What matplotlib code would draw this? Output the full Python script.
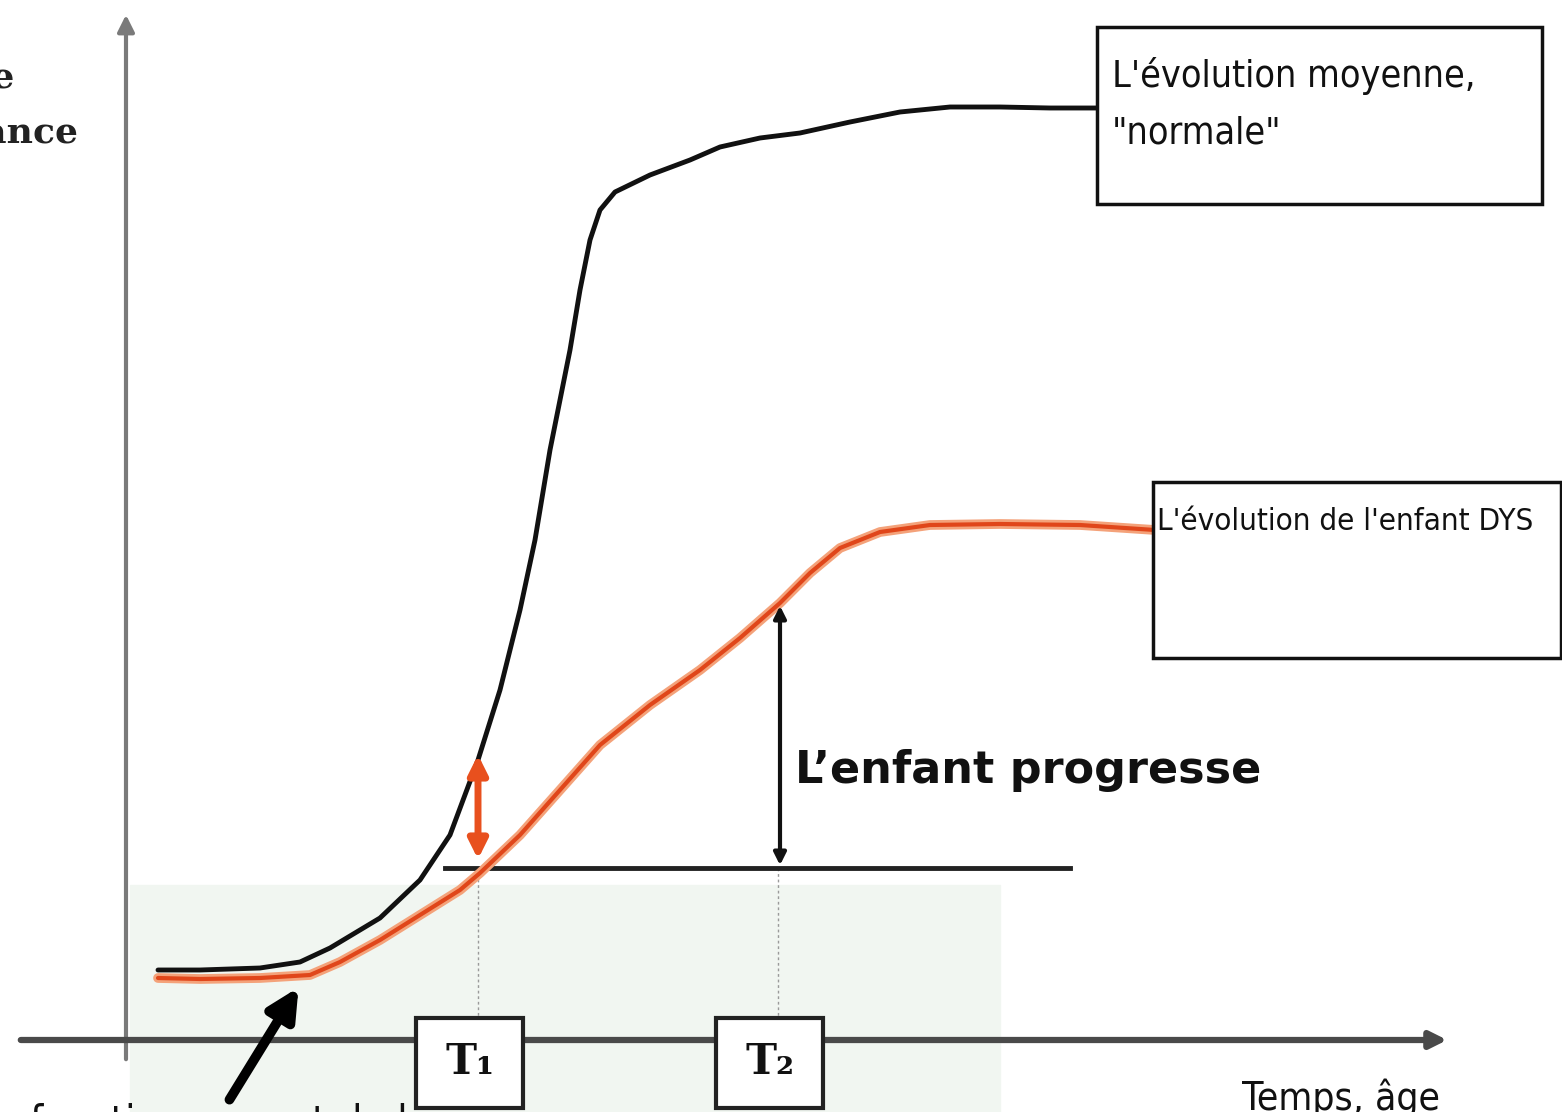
import matplotlib
matplotlib.use('Agg')
import matplotlib.pyplot as plt
from matplotlib.patches import Rectangle
from matplotlib import font_manager

# curves (x = time, y = level, picture units, y grows downward)
normal_x = [158, 200, 260, 300, 330, 380, 420, 450, 478, 500, 520, 535, 550, 560, 570,
            580, 590, 600, 615, 650, 690, 720, 760, 800, 850, 900, 950, 1000, 1050, 1097]
normal_y = [970, 970, 968, 962, 948, 918, 880, 835, 760, 690, 610, 540, 450, 400, 350,
            290, 240, 210, 192, 175, 160, 147, 138, 133, 122, 112, 107, 107, 108, 108]

dys_x = [158, 200, 260, 310, 340, 380, 420, 460, 480, 520, 560, 600, 650, 700,
         740, 780, 810, 840, 880, 930, 1000, 1080, 1155]
dys_y = [978, 979, 978, 975, 962, 940, 915, 890, 873, 835, 790, 745, 705, 670,
         638, 603, 573, 548, 532, 525, 524, 525, 530]

t_labels = ['T\u2081', 'T\u2082']
t_pos = [478, 778]
level_t1 = 868
box_texts = ["L'évolution moyenne,\n\"normale\"", "L'évolution de l'enfant DYS"]

# a condensed face if there is one, otherwise a smaller size
cond = font_manager.FontProperties(family='DejaVu Sans', stretch='condensed')
has_cond = 'Condensed' in font_manager.findfont(cond)
NARROW = dict(family='DejaVu Sans', stretch='condensed')
k = 1.0 if has_cond else 0.82

fig = plt.figure(figsize=(15.62, 11.12), dpi=100)
ax = fig.add_axes([0, 0, 1, 1])
ax.set_xlim(0, 1562)
ax.set_ylim(1112, 0)
ax.axis('off')

# faint background tint
ax.add_patch(Rectangle((130, 885), 870, 230, color='#f1f6f1', zorder=0))

# axes arrows
ax.annotate('', xy=(126, 12), xytext=(126, 1062),
            arrowprops=dict(arrowstyle='-|>', color='#7a7a7a', lw=3, mutation_scale=25))
ax.annotate('', xy=(1450, 1040), xytext=(18, 1040),
            arrowprops=dict(arrowstyle='-|>', color='#4a4a4a', lw=4.5, mutation_scale=25))

# curves
ax.plot(normal_x, normal_y, color='#111111', lw=3.5, solid_capstyle='round',
        solid_joinstyle='round', zorder=3)
ax.plot(dys_x, dys_y, color='#f4a27a', lw=7, solid_capstyle='round',
        solid_joinstyle='round', zorder=3)
ax.plot(dys_x, dys_y, color='#e0461a', lw=3, solid_capstyle='round',
        solid_joinstyle='round', zorder=4)

# reference level at T1
ax.plot([445, 1070], [level_t1, level_t1], color='#222222', lw=3.5, zorder=2)
for tp in t_pos:
    ax.plot([tp, tp], [level_t1, 1018], color='#9a9a9a', lw=1, ls=(0, (2, 2)), zorder=1)

# progress arrow
ax.annotate('', xy=(780, 603), xytext=(780, level_t1),
            arrowprops=dict(arrowstyle='<|-|>', color='#111111', lw=3, mutation_scale=18))
ax.text(795, 770, "L\u2019enfant progresse", fontsize=32, fontweight='bold',
        color='#111111', va='center', ha='left')

# gap arrow at T1
ax.annotate('', xy=(478, 752), xytext=(478, 862),
            arrowprops=dict(arrowstyle='<|-|>', color='#e8501e', lw=5, mutation_scale=28))

# T boxes
for lab, tp in zip(t_labels, t_pos):
    ax.add_patch(Rectangle((tp - 62, 1018), 107, 90, fill=True, facecolor='white',
                           edgecolor='#222222', lw=3, zorder=5))
    ax.text(tp - 8, 1062, lab, fontsize=30, fontweight='bold', family='DejaVu Serif',
            ha='center', va='center', color='#111111', zorder=6)

# black arrow to the start
ax.annotate('', xy=(300, 985), xytext=(228, 1102),
            arrowprops=dict(arrowstyle='-|>', color='#000000', lw=7, mutation_scale=45))

# explanation boxes
ax.add_patch(Rectangle((1097, 27), 445, 177, facecolor='white', edgecolor='#111111',
                       lw=2.5, zorder=5))
ax.text(1112, 57, box_texts[0], fontsize=27 * k, ha='left', va='top',
        linespacing=1.75, color='#111111', zorder=6, **NARROW)
ax.add_patch(Rectangle((1153, 482), 408, 176, facecolor='white', edgecolor='#111111',
                       lw=2.5, zorder=5))
ax.text(1157, 522, box_texts[1], fontsize=22.5 * k, ha='left', va='center',
        color='#111111', zorder=6, **NARROW)

# cut off labels
ax.text(14, 88, "Niveau de", fontsize=26, fontweight='bold', family='DejaVu Serif',
        ha='right', va='baseline', color='#222222')
ax.text(78, 143, "performance", fontsize=26, fontweight='bold', family='DejaVu Serif',
        ha='right', va='baseline', color='#222222')
ax.text(1242, 1078, "Temps, âge", fontsize=28 * k, ha='left', va='top',
        color='#111111', **NARROW)
ax.text(30, 1103, "fonctionnement de base", fontsize=30 * k, ha='left',
        va='top', color='#111111', **NARROW)

fig.savefig('out.png', dpi=100)
